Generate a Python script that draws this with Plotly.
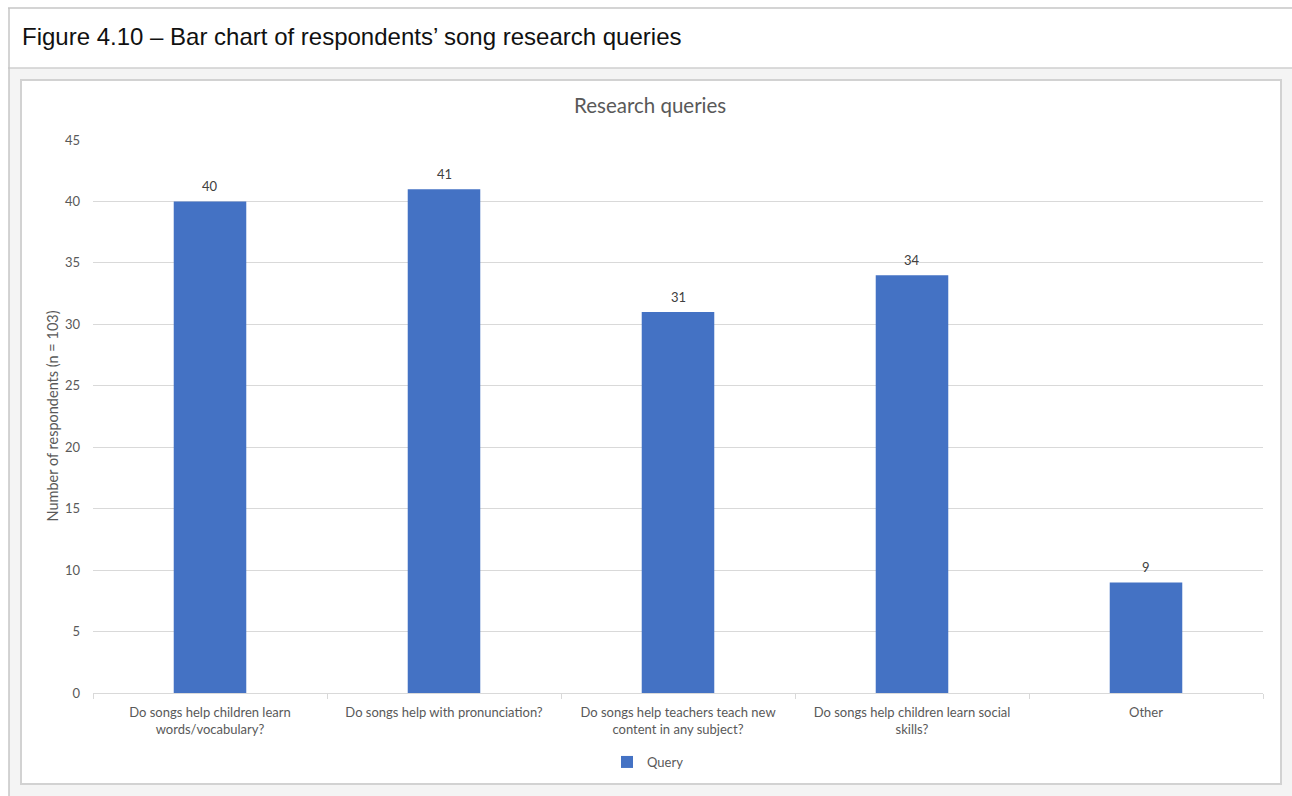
import plotly.graph_objects as go

categories = [
    "Do songs help children learn<br>words/vocabulary?",
    "Do songs help with pronunciation?",
    "Do songs help teachers teach new<br>content in any subject?",
    "Do songs help children learn social<br>skills?",
    "Other",
]
values = [40, 41, 31, 34, 9]
series_name = "Query"
y_ticks = [0, 5, 10, 15, 20, 25, 30, 35, 40, 45]

W, H = 1292, 796
L, R, T, B = 93, 1263, 140, 693


def px(x):
    return (x - L) / (R - L)


def py(y):
    return (B - y) / (B - T)


BAR = "#4472C4"
TXT = "#595959"
FONT = "Lato, 'Open Sans', sans-serif"

fig = go.Figure()
fig.add_trace(go.Bar(
    x=categories, y=values, name=series_name,
    marker=dict(color=BAR, line=dict(width=0)),
    showlegend=True,
))

shapes = [
    dict(type="rect", xref="paper", yref="paper", x0=px(9), x1=px(1300), y0=py(68), y1=py(800),
         fillcolor="#f4f4f4", line=dict(width=0), layer="below"),
    dict(type="line", xref="paper", yref="paper", x0=px(8), x1=px(1300), y0=py(8), y1=py(8),
         line=dict(color="#c6c6c6", width=1.5), layer="below"),
    dict(type="line", xref="paper", yref="paper", x0=px(8), x1=px(1300), y0=py(68), y1=py(68),
         line=dict(color="#cfcfcf", width=1.5), layer="below"),
    dict(type="line", xref="paper", yref="paper", x0=px(9), x1=px(9), y0=py(8), y1=py(800),
         line=dict(color="#c6c6c6", width=1.5), layer="below"),
    dict(type="rect", xref="paper", yref="paper", x0=px(21), x1=px(1281), y0=py(80), y1=py(784),
         fillcolor="white", line=dict(color="#d2d2d2", width=2), layer="below"),
]

annotations = [
    dict(text="Figure 4.10 \u2013 Bar chart of respondents\u2019 song research queries",
         xref="paper", yref="paper", x=px(20), y=py(37), xanchor="left", yanchor="middle",
         showarrow=False, font=dict(family="Liberation Sans, Arial, sans-serif", size=24, color="#111111")),
    dict(text="Research queries", xref="paper", yref="paper", x=px(650), y=py(105),
         xanchor="center", yanchor="middle", showarrow=False,
         font=dict(family=FONT, size=20.5, color=TXT)),
    dict(text="Number of respondents (n = 103)", xref="paper", yref="paper", x=px(52), y=0.5,
         xanchor="center", yanchor="middle", textangle=-90, showarrow=False,
         font=dict(family=FONT, size=14.5, color=TXT)),
]
for c, v in zip(categories, values):
    annotations.append(dict(text=str(v), x=c, y=v, xref="x", yref="y", yshift=15,
                            showarrow=False, xanchor="center", yanchor="middle",
                            font=dict(family=FONT, size=13, color="#404040")))

fig.update_layout(
    width=W, height=H,
    margin=dict(l=L, r=W - R, t=T, b=H - B, pad=0),
    paper_bgcolor="white", plot_bgcolor="rgba(0,0,0,0)",
    bargap=0.69,
    shapes=shapes, annotations=annotations,
    font=dict(family=FONT, size=13, color=TXT),
    legend=dict(orientation="h", x=px(648), xanchor="center", y=py(762), yanchor="middle",
                font=dict(family=FONT, size=13, color=TXT), bgcolor="rgba(0,0,0,0)"),
)
fig.update_xaxes(
    range=[-0.5, 4.5], showgrid=False, showline=True, linecolor="#d9d9d9", linewidth=1,
    ticks="outside", tickson="boundaries", ticklen=5, tickcolor="#d9d9d9",
    ticklabelstandoff=7,
    tickfont=dict(family=FONT, size=13, color=TXT), fixedrange=True,
)
fig.update_yaxes(
    range=[0, 45], tickvals=y_ticks, showgrid=True, gridcolor="#d9d9d9", gridwidth=1,
    zeroline=False, showline=False, ticks="", ticklabelstandoff=12,
    tickfont=dict(family=FONT, size=13, color=TXT), fixedrange=True,
)

fig.write_html("out.html")
